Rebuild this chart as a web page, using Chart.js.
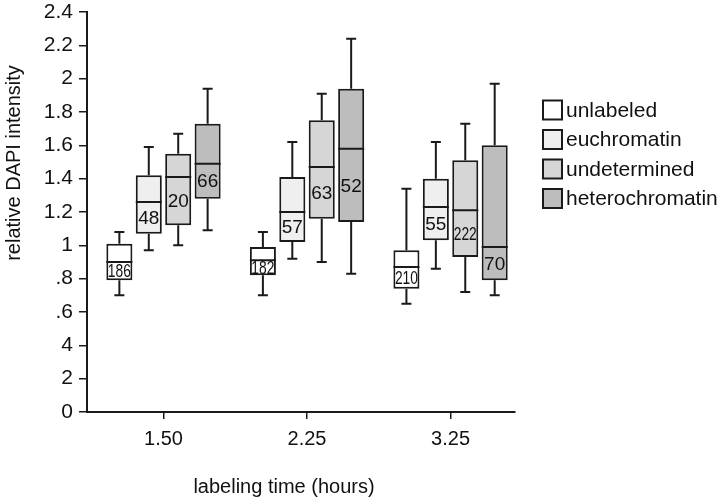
<!DOCTYPE html>
<html><head><meta charset="utf-8">
<script src="https://cdn.jsdelivr.net/npm/chart.js@4/dist/chart.umd.min.js"></script>
<style>html,body{margin:0;padding:0;background:#fff}</style>
</head><body>
<canvas id="c" width="720" height="504"></canvas>
<script>
// ---- data ----
const timeLabels = ['1.50', '2.25', '3.25'];
const yTickLabels = ['0', '2', '4', '.6', '.8', '1', '1.2', '1.4', '1.6', '1.8', '2', '2.2', '2.4'];
const seriesNames = ['unlabeled', 'euchromatin', 'undetermined', 'heterochromatin'];
// each entry: [min, q1, median, q3, max] for 1.50, 2.25, 3.25 h
const unlabeled       = [[0.70, 0.79, 0.90, 1.01, 1.08], [0.70, 0.82, 0.91, 0.99, 1.08], [0.65, 0.74, 0.87, 0.97, 1.34]];
const euchromatin     = [[0.97, 1.07, 1.26, 1.42, 1.59], [0.92, 1.02, 1.20, 1.41, 1.62], [0.86, 1.03, 1.23, 1.40, 1.62]];
const undetermined    = [[1.00, 1.12, 1.41, 1.55, 1.67], [0.90, 1.16, 1.47, 1.75, 1.91], [0.72, 0.93, 1.21, 1.51, 1.73]];
const heterochromatin = [[1.09, 1.28, 1.49, 1.73, 1.94], [0.83, 1.14, 1.58, 1.94, 2.24], [0.70, 0.79, 0.99, 1.60, 1.97]];
const unlabeledN       = [186, 182, 210];
const euchromatinN     = [48, 57, 55];
const undeterminedN    = [20, 63, 222];
const heterochromatinN = [66, 52, 70];

const boxes = [unlabeled, euchromatin, undetermined, heterochromatin];
const counts = [unlabeledN, euchromatinN, undeterminedN, heterochromatinN];
const fills = ['#ffffff', '#efefef', '#d6d6d6', '#bdbdbd'];
const INK = '#1a1a1a';
const FONT = "'Liberation Sans', Arial, Helvetica, sans-serif";

const datasets = seriesNames.map((name, i) => ({
  label: name,
  data: boxes[i].map((b, j) => ({ x: j + 1, y: [b[1], b[3]] })),
  backgroundColor: fills[i],
  borderColor: INK,
  borderWidth: 2,
  borderSkipped: false,
  categoryPercentage: 0.82,
  barPercentage: 0.885
}));

const boxPlugin = {
  id: 'boxExtras',
  afterDatasetsDraw(chart) {
    const ctx = chart.ctx;
    const ys = chart.scales.y;
    ctx.save();
    ctx.strokeStyle = INK;
    ctx.lineWidth = 2;
    chart.data.datasets.forEach((ds, i) => {
      const meta = chart.getDatasetMeta(i);
      meta.data.forEach((el, j) => {
        const b = boxes[i][j];
        const x = el.x, w = el.width;
        const pMin = ys.getPixelForValue(b[0]);
        const pQ1 = ys.getPixelForValue(b[1]);
        const pMed = ys.getPixelForValue(b[2]);
        const pQ3 = ys.getPixelForValue(b[3]);
        const pMax = ys.getPixelForValue(b[4]);
        ctx.beginPath();
        ctx.moveTo(x, pQ3); ctx.lineTo(x, pMax);
        ctx.moveTo(x - 5, pMax); ctx.lineTo(x + 5, pMax);
        ctx.moveTo(x, pQ1); ctx.lineTo(x, pMin);
        ctx.moveTo(x - 5, pMin); ctx.lineTo(x + 5, pMin);
        ctx.moveTo(x - w / 2, pMed); ctx.lineTo(x + w / 2, pMed);
        ctx.stroke();
        ctx.fillStyle = '#111';
        ctx.font = '19px ' + FONT;
        ctx.textAlign = 'center';
        ctx.textBaseline = 'middle';
        ctx.fillText(String(counts[i][j]), x, (pQ1 + pMed) / 2 + 1, w - 3);
      });
    });
    // axis titles
    ctx.fillStyle = '#111';
    ctx.font = '20px ' + FONT;
    ctx.textAlign = 'center';
    ctx.textBaseline = 'middle';
    ctx.fillText('labeling time (hours)', 284, 487);
    ctx.save();
    ctx.translate(14, 163);
    ctx.rotate(-Math.PI / 2);
    ctx.fillText('relative DAPI intensity', 0, 0);
    ctx.restore();
    // legend
    const lx = chart.chartArea.right + 28;
    ctx.font = '21px ' + FONT;
    ctx.textAlign = 'left';
    chart.data.datasets.forEach((ds, i) => {
      const cy = 110 + i * 29.5;
      ctx.fillStyle = ds.backgroundColor;
      ctx.fillRect(lx, cy - 9.5, 19, 19);
      ctx.strokeRect(lx, cy - 9.5, 19, 19);
      ctx.fillStyle = '#111';
      ctx.fillText(ds.label, lx + 23, cy + 1);
    });
    ctx.restore();
  }
};

new Chart(document.getElementById('c'), {
  type: 'bar',
  data: { datasets },
  plugins: [boxPlugin],
  options: {
    responsive: false,
    devicePixelRatio: 1,
    animation: false,
    layout: { padding: { left: 0, right: 205, top: 12, bottom: 0 } },
    plugins: { legend: { display: false }, tooltip: { enabled: false } },
    scales: {
      x: {
        type: 'linear',
        min: 0.467,
        max: 3.449,
        offset: false,
        afterBuildTicks: s => { s.ticks = timeLabels.map((t, k) => ({ value: k + 1 })); },
        afterFit: s => { s.height = 92; s.paddingLeft = 0; s.paddingRight = 0; },
        ticks: { callback: (v, k) => timeLabels[k], color: '#111', font: { family: FONT, size: 20 }, padding: 8, maxRotation: 0 },
        grid: { display: true, drawOnChartArea: false, drawTicks: true, tickLength: 7, color: INK, lineWidth: 1.5, offset: false },
        border: { display: true, color: INK, width: 2 }
      },
      y: {
        min: 0,
        max: 2.4,
        afterFit: s => { s.width = 87; s.paddingTop = 0; s.paddingBottom = 0; },
        ticks: { stepSize: 0.2, callback: (v, k) => yTickLabels[k], color: '#111', font: { family: FONT, size: 21 }, padding: 6 },
        grid: { display: true, drawOnChartArea: false, drawTicks: true, tickLength: 8, color: INK, lineWidth: 1.5 },
        border: { display: true, color: INK, width: 2 }
      }
    }
  }
});
</script>
</body></html>
